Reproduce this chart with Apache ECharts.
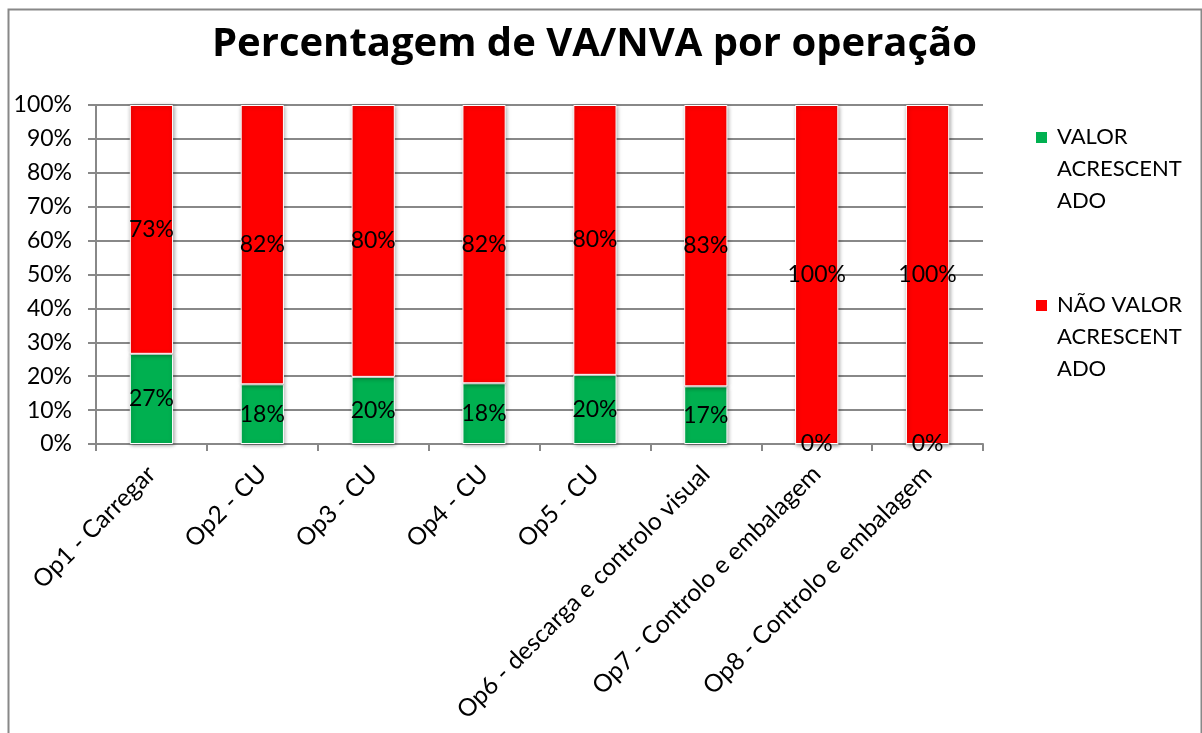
<!DOCTYPE html>
<html>
<head>
<meta charset="utf-8">
<script src="https://cdn.jsdelivr.net/npm/echarts@6/dist/echarts.min.js"></script>
<style>
html,body{margin:0;padding:0;background:#fff;}
#chart{width:1202px;height:733px;}
</style>
</head>
<body>
<div id="chart"></div>
<script>
const categories = ['Op1 - Carregar','Op2 - CU','Op3 - CU','Op4 - CU','Op5 - CU','Op6 - descarga e controlo visual','Op7 - Controlo e embalagem','Op8 - Controlo e embalagem'];
const seriesNames = ['VALOR ACRESCENTADO','NÃO VALOR ACRESCENTADO'];
const legendLabels = ['VALOR\nACRESCENT\nADO','NÃO VALOR\nACRESCENT\nADO'];
const vaValues = [26.6, 17.6, 19.8, 17.9, 20.4, 17.0, 0, 0];
const nvaValues = [73.4, 82.4, 80.2, 82.1, 79.6, 83.0, 100, 100];
const yTicks = [0,10,20,30,40,50,60,70,80,90,100];
const colors = ['#00B050','#FF0000'];

const FONT = 'Lato';
const chart = echarts.init(document.getElementById('chart'), null, {renderer:'canvas'});
const legendIcon = 'path://M0,0h0.01v0.01h-0.01z M0,10h13v13h-13z M17,96h-0.01v-0.01h0.01z';

function barSeries(i, data){
  return {
    name: seriesNames[i],
    type: 'bar',
    stack: 'total',
    barWidth: '39%',
    data: data,
    itemStyle: {color: colors[i], borderColor:'#ffffff', borderWidth:1,
      shadowBlur:4, shadowColor:'rgba(0,0,0,0.35)', shadowOffsetX:1, shadowOffsetY:1},
    label: {show:true, position:'inside', color:'#000', fontFamily:FONT, fontSize:23,
      formatter: p => Math.round(p.value) + '%'},
    emphasis:{disabled:true},
    animation:false
  };
}

chart.setOption({
  animation:false,
  textStyle:{fontFamily:FONT},
  title:{text:'Percentagem de VA/NVA por operação', left:207, top:20,
    textStyle:{fontFamily:'Open Sans', fontWeight:'bold', fontSize:40, color:'#000'}},
  legend:{orient:'vertical', left:1029, top:115, itemGap:70, itemWidth:17, itemHeight:96,
    selectedMode:false,
    data: seriesNames.map((n,i)=>({name:n, icon:legendIcon})),
    formatter: n => legendLabels[seriesNames.indexOf(n)],
    textStyle:{fontFamily:FONT, fontSize:22, lineHeight:32, color:'#000'}},
  grid:{left:96, right:219, top:105, bottom:289, containLabel:false},
  xAxis:{type:'category', data:categories,
    axisLine:{lineStyle:{color:'#888', width:2}},
    axisTick:{show:true, length:7, alignWithLabel:false, lineStyle:{color:'#888', width:2}},
    axisLabel:{rotate:45, interval:0, fontFamily:FONT, fontSize:24.5, color:'#000', margin:26}},
  yAxis:{type:'value', min:0, max:100, interval:10,
    axisLine:{show:true, lineStyle:{color:'#888', width:2}},
    axisTick:{show:true, length:8, inside:false, lineStyle:{color:'#888', width:2}},
    splitLine:{lineStyle:{color:'#888', width:2}},
    axisLabel:{formatter: v => yTicks.includes(v) ? v + '%' : '', fontFamily:FONT, fontSize:23, color:'#000', margin:24}},
  graphic:[{type:'rect', left:6, top:7, shape:{width:1193, height:760},
    style:{fill:'none', stroke:'#888', lineWidth:2}, silent:true, z:-1}],
  series:[barSeries(0, vaValues), barSeries(1, nvaValues)]
});
</script>
</body>
</html>
